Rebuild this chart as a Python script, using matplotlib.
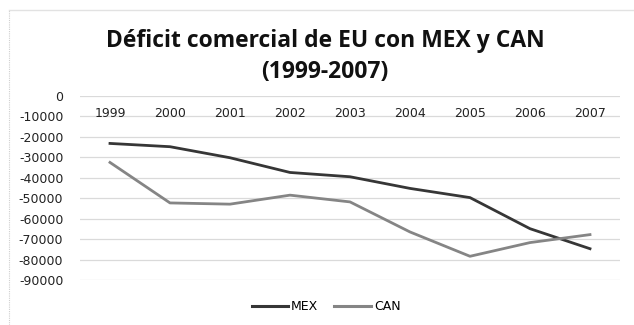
import matplotlib
matplotlib.use("Agg")
import matplotlib.pyplot as plt
from matplotlib.lines import Line2D

years = ["1999", "2000", "2001", "2002", "2003", "2004", "2005", "2006", "2007"]
mex = [-23200, -24800, -30200, -37400, -39500, -45200, -49700, -64900, -74700]
can = [-32500, -52300, -52900, -48500, -51800, -66500, -78400, -71700, -67800]
yticks = list(range(0, -100000, -10000))

W, H = 634, 325
fig = plt.figure(figsize=(W / 100, H / 100), dpi=100)
fig.patch.set_facecolor("white")

# chart frame
fig.add_artist(Line2D([9 / W, 9 / W], [0, 1 - 10 / H], color="#cfcfcf", lw=0.8,
                      linestyle=(0, (1, 1)), transform=fig.transFigure))
fig.add_artist(Line2D([9 / W, 1], [1 - 10 / H, 1 - 10 / H], color="#e2e2e2", lw=1.0,
                      transform=fig.transFigure))

left, right = 80 / W, 620 / W
top, bottom = 1 - 96 / H, 1 - 280 / H
ax = fig.add_axes([left, bottom, right - left, top - bottom])

mex_color, can_color = "#363636", "#858585"
x = list(range(len(years)))
ax.plot(x, mex, color=mex_color, lw=2.0, zorder=3)
ax.plot(x, can, color=can_color, lw=2.0, zorder=3)

ax.set_xlim(-0.5, len(years) - 0.5)
ax.set_ylim(-90000, 0)
ax.set_yticks(yticks)
ax.set_yticklabels([str(v) for v in yticks], fontsize=9, color="#222222")
ax.tick_params(axis="y", length=0, pad=12)
ax.set_xticks([])
for v in yticks:
    ax.axhline(v, color="#dadada", lw=0.9, zorder=1)
for s in ax.spines.values():
    s.set_visible(False)

# category labels sit just under the zero line
for xi, lab in zip(x, years):
    ax.text(xi, -8600, lab, ha="center", va="center", fontsize=9, color="#222222")

tx = 325 / W
fig.text(tx, 1 - 41 / H, "Déficit comercial de EU con MEX y CAN",
         ha="center", va="center", fontsize=16.5, fontweight="bold", family="Open Sans",
         color="#111111")
fig.text(tx, 1 - 72 / H, "(1999-2007)",
         ha="center", va="center", fontsize=16.5, fontweight="bold", family="Open Sans",
         color="#111111")

handles = [Line2D([], [], color=mex_color, lw=2.2), Line2D([], [], color=can_color, lw=2.2)]
fig.legend(handles, ["MEX", "CAN"], loc="center", bbox_to_anchor=(326 / W, 1 - 307 / H),
           ncol=2, frameon=False, fontsize=9, handlelength=2.9, handletextpad=0.25,
           columnspacing=1.3)

fig.savefig("out.png", dpi=100, facecolor="white")
